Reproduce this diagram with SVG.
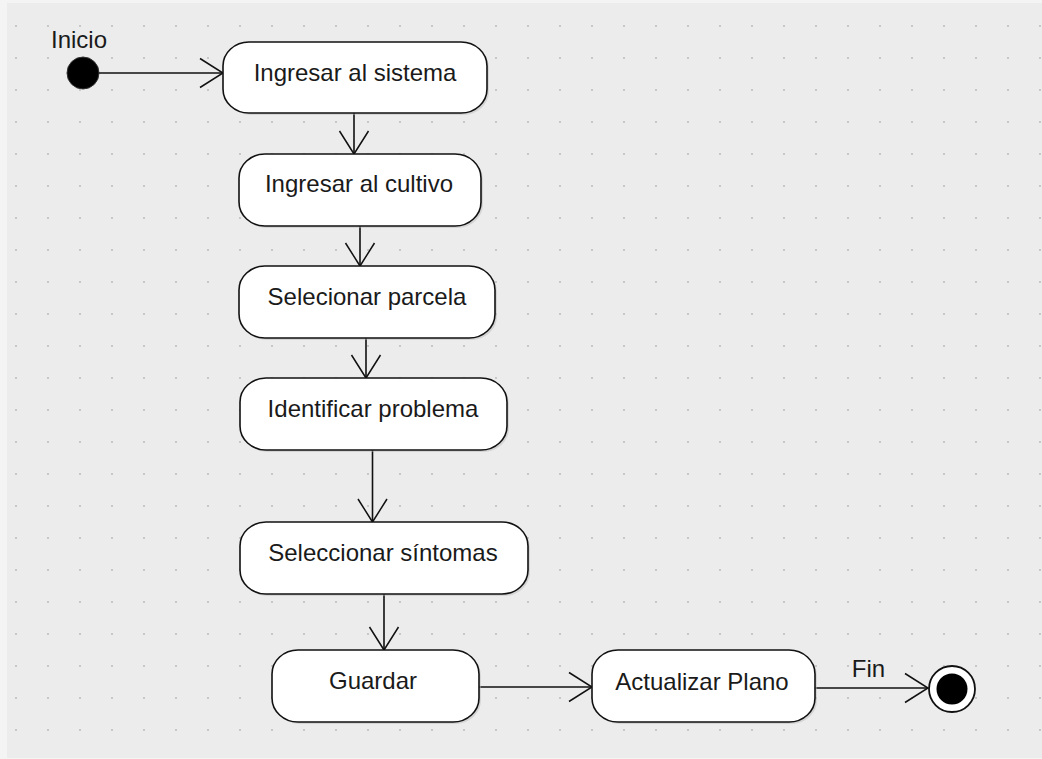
<svg xmlns="http://www.w3.org/2000/svg" width="1042" height="759" viewBox="0 0 1042 759">
  <style>
    .bg { fill: #f4f4f4; }
    .canvas { fill: #ececec; }
    .act { fill: #ffffff; stroke: #111111; stroke-width: 1.6; }
    .shadow { fill: #b8b8b8; opacity: 0.45; }
    .label { font-family: "Liberation Sans", Arial, sans-serif; font-size: 24px; fill: #1a1a1a; text-anchor: middle; }
    .flow { fill: none; stroke: #111111; stroke-width: 1.6; }
  </style>
  <defs>
    <pattern id="grid" x="0" y="0" width="32" height="32" patternUnits="userSpaceOnUse">
      <rect x="15" y="25" width="2" height="2" fill="#c8c8c8"/>
    </pattern>
    <marker id="open-arrow" markerUnits="userSpaceOnUse" markerWidth="30" markerHeight="34" viewBox="-26 -17 30 34" refX="0" refY="0" orient="auto">
      <path d="M -23 -14.5 L 0 0 L -23 14.5" fill="none" stroke="#111111" stroke-width="1.5"/>
    </marker>
  </defs>

  <!-- drawing area with dotted grid -->
  <rect class="bg" x="0" y="0" width="1042" height="759"/>
  <rect class="canvas" x="7" y="3" width="1035" height="755"/>
  <rect x="7" y="3" width="1035" height="755" fill="url(#grid)"/>

  <!-- control flows -->
  <g id="connectors">
    <line class="flow" x1="99" y1="73" x2="223" y2="73" marker-end="url(#open-arrow)"/>
    <line class="flow" x1="354" y1="113" x2="354" y2="154" marker-end="url(#open-arrow)"/>
    <line class="flow" x1="360" y1="226" x2="360" y2="266" marker-end="url(#open-arrow)"/>
    <line class="flow" x1="366" y1="338" x2="366" y2="378" marker-end="url(#open-arrow)"/>
    <line class="flow" x1="372.5" y1="450" x2="372.5" y2="522" marker-end="url(#open-arrow)"/>
    <line class="flow" x1="384" y1="594" x2="384" y2="650" marker-end="url(#open-arrow)"/>
    <line class="flow" x1="479" y1="687" x2="592" y2="687" marker-end="url(#open-arrow)"/>
    <line class="flow" x1="815" y1="688" x2="928" y2="688" marker-end="url(#open-arrow)"/>
    <text class="label" x="868.5" y="677">Fin</text>
  </g>

  <!-- initial node -->
  <g id="start">
    <text class="label" x="79" y="48">Inicio</text>
    <circle cx="83" cy="73" r="16" fill="#000000" stroke="#333333" stroke-width="1"/>
  </g>

  <g id="ingresar-sistema">
    <rect class="shadow" x="225" y="44" width="264" height="71" rx="26" ry="24"/>
    <rect class="act" x="223" y="42" width="264" height="71" rx="26" ry="24"/>
    <text class="label" x="355" y="81">Ingresar al sistema</text>
  </g>

  <g id="ingresar-cultivo">
    <rect class="shadow" x="241" y="156" width="242" height="72" rx="26" ry="24"/>
    <rect class="act" x="239" y="154" width="242" height="72" rx="26" ry="24"/>
    <text class="label" x="359" y="192">Ingresar al cultivo</text>
  </g>

  <g id="selecionar-parcela">
    <rect class="shadow" x="241" y="268" width="256" height="72" rx="26" ry="24"/>
    <rect class="act" x="239" y="266" width="256" height="72" rx="26" ry="24"/>
    <text class="label" x="367" y="305">Selecionar parcela</text>
  </g>

  <g id="identificar-problema">
    <rect class="shadow" x="242" y="380" width="267" height="72" rx="26" ry="24"/>
    <rect class="act" x="240" y="378" width="267" height="72" rx="26" ry="24"/>
    <text class="label" x="373" y="417">Identificar problema</text>
  </g>

  <g id="seleccionar-sintomas">
    <rect class="shadow" x="242" y="524" width="288" height="72" rx="26" ry="24"/>
    <rect class="act" x="240" y="522" width="288" height="72" rx="26" ry="24"/>
    <text class="label" x="383" y="561">Seleccionar síntomas</text>
  </g>

  <g id="guardar">
    <rect class="shadow" x="274" y="652" width="207" height="72" rx="26" ry="24"/>
    <rect class="act" x="272" y="650" width="207" height="72" rx="26" ry="24"/>
    <text class="label" x="373" y="689">Guardar</text>
  </g>

  <g id="actualizar-plano">
    <rect class="shadow" x="594" y="652" width="223" height="72" rx="26" ry="24"/>
    <rect class="act" x="592" y="650" width="223" height="72" rx="26" ry="24"/>
    <text class="label" x="702" y="690">Actualizar Plano</text>
  </g>

  <!-- final node -->
  <g id="end">
    <circle cx="952" cy="689" r="23" fill="#ffffff" stroke="#111111" stroke-width="1.8"/>
    <circle cx="952" cy="689" r="15.5" fill="#000000"/>
  </g>
</svg>
